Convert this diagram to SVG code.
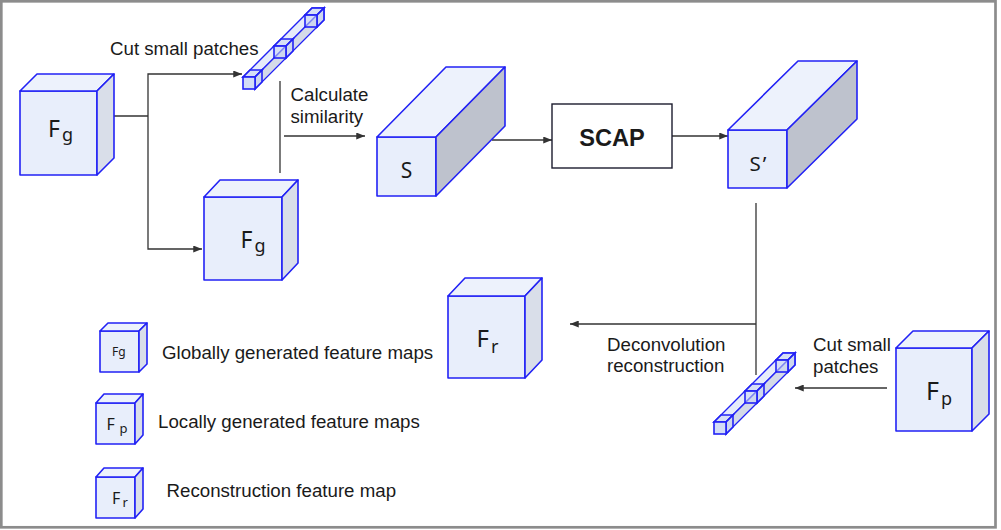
<svg xmlns="http://www.w3.org/2000/svg" width="1001" height="530" viewBox="0 0 1001 530">
<defs>
<marker id="ah" viewBox="0 0 10 8" refX="10" refY="4" markerWidth="9" markerHeight="7" markerUnits="userSpaceOnUse" orient="auto">
<path d="M0,0 L10,4 L0,8 z" fill="#333"/>
</marker>
</defs>
<style>
.fr{fill:#E8EEFB;stroke:#2222F5;stroke-width:1.6;stroke-linejoin:round}
.tp{fill:#EDF2FC;stroke:#2222F5;stroke-width:1.6;stroke-linejoin:round}
.sd{fill:#D9DEE9;stroke:#2222F5;stroke-width:1.6;stroke-linejoin:round}
.sdk{fill:#BEC2CD;stroke:#2222F5;stroke-width:1.6;stroke-linejoin:round}
.bt{fill:#E6ECFA;stroke:#2222F5;stroke-width:1.3}
.bs{fill:#D4DAE8;stroke:#2222F5;stroke-width:1.3}
.pc{fill:#C9D5F2;fill-opacity:0.55;stroke:#2222F5;stroke-width:1.6}
.ln{fill:none;stroke:#333;stroke-width:1.3}
.ar{fill:none;stroke:#333;stroke-width:1.3;marker-end:url(#ah)}
.t{font-family:"Liberation Sans",Arial,sans-serif;font-size:18.7px;fill:#1a1a1a}
.lb{font-family:"Noto Sans","Open Sans",sans-serif;fill:#1a1a1a}
</style>
<rect x="1.3" y="1.3" width="994.2" height="526" fill="#fff" stroke="#8c8c8c" stroke-width="2.7"/>

<g id="connectors">
<polyline class="ln" points="114,116 148,116"/>
<polyline class="ar" points="148,116 148,74 242,74"/>
<polyline class="ar" points="148,116 148,249 202,249"/>
<line class="ln" x1="280" y1="81" x2="280" y2="173"/>
<line class="ar" x1="284" y1="136" x2="365" y2="136"/>
<line class="ar" x1="492" y1="140" x2="552" y2="140"/>
<line class="ar" x1="672" y1="136" x2="728" y2="136"/>
<line class="ln" x1="756" y1="203" x2="756" y2="375"/>
<line class="ar" x1="756" y1="324" x2="570" y2="324"/>
<line class="ar" x1="887" y1="388" x2="795" y2="388"/>
</g>

<g id="Fg1">
<rect class="fr" x="20" y="91" width="77" height="84"/>
<polygon class="tp" points="20,91 37,74 114,74 97,91"/>
<polygon class="sd" points="97,91 114,74 114,158 97,175"/>
<text class="lb" x="48" y="137" font-size="23">F</text><text class="lb" x="62" y="141" font-size="18">g</text>
</g>

<g id="Fg2">
<rect class="fr" x="204" y="197" width="78" height="83"/>
<polygon class="tp" points="204,197 220,180 298,180 282,197"/>
<polygon class="sd" points="282,197 298,180 298,263 282,280"/>
<text class="lb" x="240.5" y="248" font-size="23">F</text><text class="lb" x="254.5" y="252" font-size="18">g</text>
</g>

<g id="patches1">
<polygon class="bt" points="243,77 312,8 324,8 255,77"/>
<polygon class="bs" points="255,77 324,8 324,20 255,89"/>
<g>
<polygon class="pc" points="305,15 312,8 324,8 317,15"/>
<polygon class="pc" points="317,15 324,8 324,20 317,27"/>
<rect class="pc" x="305" y="15" width="12" height="12"/>
</g>
<g>
<polygon class="pc" points="274,46 281,39 293,39 286,46"/>
<polygon class="pc" points="286,46 293,39 293,51 286,58"/>
<rect class="pc" x="274" y="46" width="12" height="12"/>
</g>
<g>
<polygon class="pc" points="243,77 250,70 262,70 255,77"/>
<polygon class="pc" points="255,77 262,70 262,82 255,89"/>
<rect class="pc" x="243" y="77" width="12" height="12" style="fill:#D3DDF6;fill-opacity:1"/>
</g>
</g>

<g id="S">
<rect class="fr" x="377" y="137" width="59" height="59"/>
<polygon class="tp" points="377,137 446,67 505,67 436,137"/>
<polygon class="sdk" points="436,137 505,67 505,126 436,196"/>
<text class="lb" x="406.5" y="178" font-size="21" text-anchor="middle">S</text>
</g>

<g id="SCAP">
<rect x="552" y="104" width="120" height="64" fill="#fff" stroke="#1c1c2e" stroke-width="1.4"/>
<text x="612" y="146" text-anchor="middle" font-family="Liberation Sans,Arial,sans-serif" font-weight="bold" font-size="23.6" fill="#1a1a1a">SCAP</text>
</g>

<g id="S2">
<rect class="fr" x="728" y="130" width="59" height="58"/>
<polygon class="tp" points="728,130 798,61 857,61 787,130"/>
<polygon class="sdk" points="787,130 857,61 857,119 787,188"/>
<text class="lb" x="749.5" y="171" font-size="20.5" letter-spacing="2">S’</text>
</g>

<g id="Fr">
<rect class="fr" x="448" y="296" width="77" height="82"/>
<polygon class="tp" points="448,296 465,278 542,278 525,296"/>
<polygon class="sd" points="525,296 542,278 542,360 525,378"/>
<text class="lb" x="476.5" y="347" font-size="24">F</text><text class="lb" x="491" y="353" font-size="18">r</text>
</g>

<g id="patches2">
<polygon class="bt" points="714,422 783,353 795,353 726,422"/>
<polygon class="bs" points="726,422 795,353 795,365 726,434"/>
<g>
<polygon class="pc" points="776,360 783,353 795,353 788,360"/>
<polygon class="pc" points="788,360 795,353 795,365 788,372"/>
<rect class="pc" x="776" y="360" width="12" height="12"/>
</g>
<g>
<polygon class="pc" points="745,391 752,384 764,384 757,391"/>
<polygon class="pc" points="757,391 764,384 764,396 757,403"/>
<rect class="pc" x="745" y="391" width="12" height="12"/>
</g>
<g>
<polygon class="pc" points="714,422 721,415 733,415 726,422"/>
<polygon class="pc" points="726,422 733,415 733,427 726,434"/>
<rect class="pc" x="714" y="422" width="12" height="12" style="fill:#D3DDF6;fill-opacity:1"/>
</g>
</g>

<g id="Fp">
<rect class="fr" x="896" y="348" width="76" height="83"/>
<polygon class="tp" points="896,348 913,331 989,331 972,348"/>
<polygon class="sd" points="972,348 989,331 989,414 972,431"/>
<text class="lb" x="926" y="400" font-size="25">F</text><text class="lb" x="941" y="405" font-size="18">p</text>
</g>

<g id="legend-Fg">
<rect class="fr" x="100" y="331" width="39" height="41"/>
<polygon class="tp" points="100,331 108,323 147,323 139,331"/>
<polygon class="sd" points="139,331 147,323 147,364 139,372"/>
<text class="lb" x="112" y="356" font-size="12">Fg</text>
</g>
<g id="legend-Fp">
<rect class="fr" x="96" y="403" width="39" height="41"/>
<polygon class="tp" points="96,403 104,394 143,394 135,403"/>
<polygon class="sd" points="135,403 143,394 143,435 135,444"/>
<text class="lb" x="106.5" y="430" font-size="16">F</text><text class="lb" x="119.5" y="432.5" font-size="13">p</text>
</g>
<g id="legend-Fr">
<rect class="fr" x="96" y="477" width="39" height="41"/>
<polygon class="tp" points="96,477 104,468 143,468 135,477"/>
<polygon class="sd" points="135,477 143,468 143,509 135,518"/>
<text class="lb" x="112" y="503.5" font-size="16">F</text><text class="lb" x="122.5" y="507" font-size="13">r</text>
</g>

<g id="labels">
<text class="t" x="110" y="55">Cut small patches</text>
<text class="t" x="290.5" y="100.5">Calculate</text>
<text class="t" x="290.5" y="122.5">similarity</text>
<text class="t" x="607" y="350.5">Deconvolution</text>
<text class="t" x="607" y="372">reconstruction</text>
<text class="t" x="813" y="350.5">Cut small</text>
<text class="t" x="813" y="372.5">patches</text>
<text class="t" x="162" y="359">Globally generated feature maps</text>
<text class="t" x="158" y="428">Locally generated feature maps</text>
<text class="t" x="166.5" y="496.5">Reconstruction feature map</text>
</g>
</svg>
